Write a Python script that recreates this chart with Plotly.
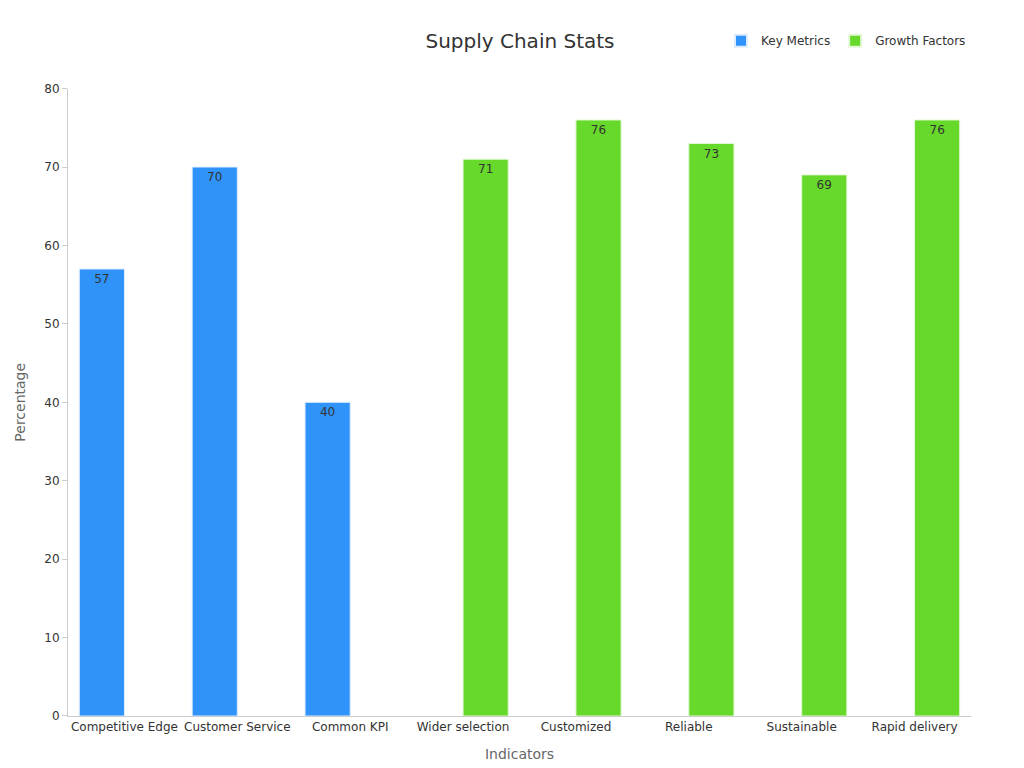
import plotly.graph_objects as go

categories = ["Competitive Edge", "Customer Service", "Common KPI", "Wider selection",
              "Customized", "Reliable", "Sustainable", "Rapid delivery"]
key_metrics = [57, 70, 40, None, None, None, None, None]
growth_factors = [None, None, None, 71, 76, 73, 69, 76]

fig = go.Figure()
fig.add_trace(go.Bar(x=categories, y=key_metrics, name="Key Metrics",
                     marker=dict(color="#2f93fa", line=dict(color="#dcecfd", width=1)),
                     text=key_metrics, textposition="inside", insidetextanchor="end",
                     textfont=dict(color="#333333", size=12)))
fig.add_trace(go.Bar(x=categories, y=growth_factors, name="Growth Factors",
                     marker=dict(color="#66d92a", line=dict(color="#e2f7d6", width=1)),
                     text=growth_factors, textposition="inside", insidetextanchor="end",
                     textfont=dict(color="#333333", size=12)))

fig.update_layout(
    width=1024, height=768,
    font=dict(family="DejaVu Sans", color="#333333", size=12),
    title=dict(text="Supply Chain Stats", x=0.5, xanchor="center", y=0.957, yanchor="middle",
               font=dict(size=20, color="#333333")),
    barmode="group", bargap=0.2, bargroupgap=0,
    plot_bgcolor="white", paper_bgcolor="white",
    margin=dict(l=60, r=61, t=60, b=60, autoexpand=False),
    legend=dict(orientation="h", x=1.0, xanchor="right", y=1.042, yanchor="middle",
                font=dict(size=12), itemsizing="constant"),
    uniformtext=dict(minsize=12, mode="show"),
)
fig.update_xaxes(title=dict(text="Indicators", font=dict(size=14, color="#666666"), standoff=15),
                 showline=True, linecolor="#cccccc", tickfont=dict(size=12),
                 ticks="", showgrid=False, automargin=False)
fig.update_yaxes(title=dict(text="Percentage", font=dict(size=14, color="#666666")),
                 range=[0, 80], dtick=10, showline=True, linecolor="#cccccc",
                 ticks="outside", tickcolor="#cccccc", ticklen=5,
                 showgrid=False, zeroline=False, tickfont=dict(size=12), automargin=False,
                 domain=[0, 0.9682])

fig.write_html("out.html")
